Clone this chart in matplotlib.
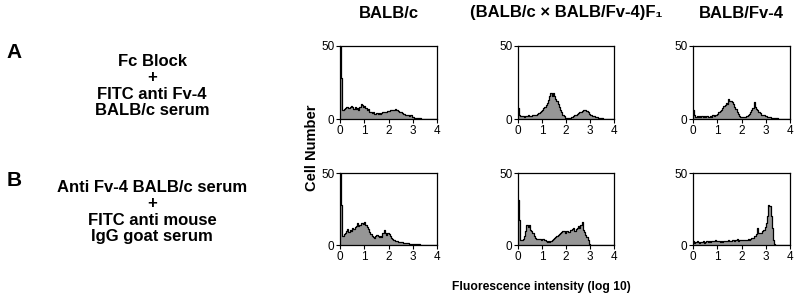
import numpy as np
import matplotlib
matplotlib.use("Agg")
import matplotlib.pyplot as plt

plt.rcParams['font.family'] = ['Liberation Sans', 'DejaVu Sans']

# histogram bins of 0.05 log units from 0 to 4 (left edges)
bin_width = 0.05
n_bins = 80

# row A: Fc Block + FITC anti Fv-4 BALB/c serum
a_balbc = [50, 28, 6, 7, 7.5, 8, 8.5, 7.5, 8.5, 9,
           8.5, 7, 8, 7, 7.5, 6.5, 8.5, 10, 9.5, 8,
           9, 7.5, 6.5, 7, 5, 4.5, 4, 4.5, 3.5, 3.5,
           3.8, 3.5, 4, 3.5, 4, 4.5, 4.5, 5, 5, 5.5,
           5.5, 6, 6, 6.5, 6.5, 6.8, 6.5, 6, 5.5, 5,
           4.5, 4, 3.5, 3.5, 3, 2.8, 2.5, 2.2, 2.5, 1.5,
           1.2, 1, 0.8, 0.7, 0.6, 0.5, 0.4, 0.3, 0.3, 0.2,
           0.2, 0.1, 0.1, 0, 0, 0, 0, 0, 0, 0]
a_f1 = [7.5, 3, 2, 1.8, 2.2, 1.5, 2, 1.8, 2.5, 2,
        1.8, 2.2, 2.5, 2.8, 2.5, 3, 3.5, 4, 4.8, 5.5,
        6.5, 7.5, 8.5, 9.5, 11, 13, 16, 17.5, 16, 17.5,
        15.5, 14, 12, 10, 8, 6.5, 4.5, 3, 1.8, 1,
        0.5, 0.5, 0.6, 0.8, 1.2, 1.5, 2, 2.5, 3, 3.5,
        4, 4.5, 5, 5.5, 6.5, 6, 6.3, 5.5, 4.5, 3.5,
        3, 2.5, 2, 1.8, 1.5, 1.5, 1.2, 1, 0.8, 0.6,
        0.5, 0.3, 0.2, 0.1, 0.1, 0.1, 0, 0, 0, 0]
a_fv4 = [6.5, 2.5, 1.5, 2, 1.5, 2.2, 1.5, 1.8, 1.5, 2,
         1.5, 1.8, 1.2, 1.5, 2, 1.5, 2.5, 2, 2.5, 2.8,
         3.5, 4.5, 5.5, 6.5, 7.5, 9, 9.5, 11, 10, 13.5,
         12, 12.5, 11.5, 10, 8.5, 7, 5, 3.5, 2, 1.5,
         1.2, 1.2, 1.5, 1.2, 1.8, 2.5, 3.5, 4.5, 6, 7.5,
         11.5, 8, 7, 6, 5, 4, 3, 2.8, 2.5, 2,
         1.8, 1.5, 1.2, 1.5, 1, 0.8, 0.8, 0.6, 0.5, 0.4,
         0.3, 0.3, 0.2, 0.1, 0.1, 0.1, 0, 0, 0, 0]

# row B: Anti Fv-4 BALB/c serum + FITC anti mouse IgG goat serum
b_balbc = [50, 28, 6.5, 7.5, 8, 9.5, 11, 9, 10.5, 10,
           11.5, 11, 12.8, 13.5, 15, 13, 14, 15.5, 15.5, 14.5,
           16.3, 14, 12.8, 11, 9.3, 7.5, 6, 5.5, 5, 6,
           7, 6, 5.3, 6, 5.8, 8, 10.5, 8, 7, 8,
           7.7, 6, 4.7, 4, 3.5, 3, 2.8, 2.5, 2.3, 2,
           2, 1.8, 1.6, 1.5, 1.3, 1.2, 1.2, 1, 0.9, 0.8,
           0.7, 0.6, 0.6, 0.5, 0.5, 0.4, 0.3, 0.3, 0.2, 0.2,
           0.1, 0.1, 0.1, 0, 0, 0, 0, 0, 0, 0]
b_f1 = [31, 17.5, 3.5, 3.8, 4, 6, 9.4, 14, 12.5, 14,
        10.5, 10, 8.2, 6, 4.7, 4.5, 4, 4, 4.2, 3.8,
        4.2, 4, 3.5, 3, 2.3, 2.5, 2.3, 3, 3.5, 4,
        4.7, 5.5, 6.3, 7, 7.7, 8.5, 8.7, 9.5, 9.4, 8.5,
        10, 9.5, 8.8, 10.5, 10.5, 11, 11.7, 10, 11, 12,
        12.9, 11.5, 14, 15.7, 10.5, 9, 7, 5.5, 3.5, 0.7,
        0, 0, 0, 0, 0, 0, 0, 0, 0, 0,
        0, 0, 0, 0, 0, 0, 0, 0, 0, 0]
b_fv4 = [2.5, 1.5, 1.8, 2.5, 2, 1.5, 2.2, 1.8, 2.5, 1.5,
         2, 2.5, 1.8, 2.5, 2.2, 2.8, 3, 2.5, 3.2, 2.8,
         3, 2.5, 2, 2.5, 2.2, 2.8, 2.5, 3, 2.8, 3.2,
         2.5, 3, 3.2, 3.5, 3, 3.8, 4.5, 3, 3.5, 3.8,
         3.2, 3.5, 3.8, 3.5, 3.8, 4.2, 3.8, 4.5, 4.8, 5.2,
         6, 6.5, 7.5, 11.5, 8.5, 8, 8.5, 9.5, 10.5, 12.5,
         15.5, 20, 27.5, 27, 20, 11.5, 3.5, 0.8, 0, 0,
         0, 0, 0, 0, 0, 0, 0, 0, 0, 0]

col_titles = ['BALB/c', '(BALB/c \u00d7 BALB/Fv-4)F\u2081', 'BALB/Fv-4']
row_letters = ['A', 'B']
row_texts = ['Fc Block\n+\nFITC anti Fv-4\nBALB/c serum',
             'Anti Fv-4 BALB/c serum\n+\nFITC anti mouse\nIgG goat serum']
rows = [[a_balbc, a_f1, a_fv4], [b_balbc, b_f1, b_fv4]]

W, H = 800, 298
fig = plt.figure(figsize=(W / 100, H / 100), dpi=100)

col_px = [(340, 97), (518, 96), (693, 97)]
row_px = [(46, 119), (173, 245)]

x = np.arange(n_bins) * bin_width + bin_width / 2
for r, (top, bot) in enumerate(row_px):
    for c, (left, wid) in enumerate(col_px):
        ax = fig.add_axes([left / W, 1 - bot / H, wid / W, (bot - top) / H])
        vals = np.array(rows[r][c], dtype=float)
        xs = np.concatenate([[0], x, [4]])
        ys = np.concatenate([[vals[0]], vals, [vals[-1]]])
        ax.fill_between(xs, ys, step='mid', color='#969696', lw=0)
        ax.plot(xs, ys, drawstyle='steps-mid', color='black', lw=0.9)
        ax.set_xlim(0, 4)
        ax.set_ylim(0, 50)
        ax.set_xticks([0, 1, 2, 3, 4])
        ax.set_yticks([0, 50])
        ax.tick_params(direction='out', length=3, width=0.8, labelsize=8.5,
                       pad=1)
        for s in ax.spines.values():
            s.set_linewidth(0.9)
        if r == 0:
            fig.text((left + wid / 2) / W, 1 - 13 / H, col_titles[c],
                     ha='center', va='center', fontsize=12,
                     fontweight='bold')

for r in range(2):
    fig.text(14 / W, 1 - [52, 180][r] / H, row_letters[r], ha='center',
             va='center', fontsize=15, fontweight='bold')
    fig.text(152 / W, 1 - [86, 212][r] / H, row_texts[r], ha='center',
             va='center', fontsize=12, fontweight='bold', linespacing=1.12)

fig.text(312 / W, 1 - 148 / H, 'Cell Number', rotation=90, ha='center',
         va='center', fontsize=10.5, fontweight='bold')
fig.text(541 / W, 1 - 287 / H, 'Fluorescence intensity (log 10)',
         ha='center', va='center', fontsize=8.7, fontweight='bold')

fig.savefig('out.png', dpi=100)
